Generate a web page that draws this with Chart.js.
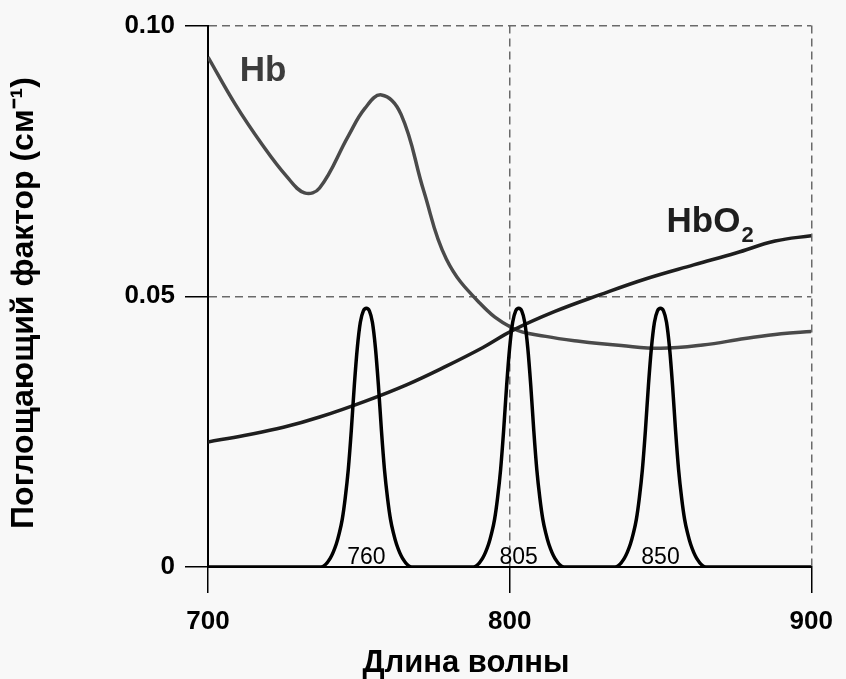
<!DOCTYPE html>
<html>
<head>
<meta charset="utf-8">
<script src="https://cdn.jsdelivr.net/npm/chart.js@4.4.1/dist/chart.umd.min.js"></script>
<style>
  body { margin: 0; background: #f8f8f8; }
  #wrap { width: 846px; height: 679px; }
</style>
</head>
<body>
<div id="wrap"><canvas id="absChart" width="846" height="679"></canvas></div>
<script>
// absorption of Hb, nm -> cm^-1
const hbWave = [700, 709, 718, 726, 732, 737, 746.5, 752, 757.5, 764, 771.5, 779, 790, 801, 812, 823, 837, 850, 864, 878, 890, 900];
const hbVals = [0.0942, 0.0855, 0.0780, 0.0722, 0.0691, 0.0700, 0.0796, 0.0847, 0.0872, 0.0836, 0.0695, 0.0569, 0.0488, 0.0441, 0.0426, 0.0417, 0.0409, 0.0404, 0.0410, 0.0422, 0.0431, 0.0435];

// absorption of HbO2
const hbo2Wave = [700, 712, 725, 737, 752, 766, 779, 791, 801, 815, 830, 845, 861, 875, 888, 900];
const hbo2Vals = [0.0231, 0.0243, 0.0258, 0.0277, 0.0306, 0.0337, 0.0371, 0.0405, 0.0437, 0.0472, 0.0503, 0.0532, 0.0558, 0.0580, 0.0602, 0.0612];

// source emission peaks (scaled)
const peakWave = [700,
  737.5, 740.5, 742.5, 743.5, 744.5, 745.5, 746.5, 747.5, 748.5, 749.5, 750.5, 751.5, 752.5, 753.5, 754.5, 755.5, 756.5, 757.5, 758.5, 759.5, 760.5, 761.5, 762.5, 764.5, 767.5,
  788, 791, 793, 794, 795, 796, 797, 798, 799, 800, 801, 802, 803, 804, 805, 806, 807, 808, 809, 810, 811, 812, 813, 815, 818,
  835, 838, 840, 841, 842, 843, 844, 845, 846, 847, 848, 849, 850, 851, 852, 853, 854, 855, 856, 857, 858, 859, 860, 862, 865,
  900];
const peakVals = [0,
  0, 0.0016, 0.0042, 0.0062, 0.0088, 0.0128, 0.0180, 0.0252, 0.0335, 0.0405, 0.0452, 0.0473, 0.0478, 0.0473, 0.0452, 0.0405, 0.0335, 0.0252, 0.0180, 0.0128, 0.0088, 0.0062, 0.0042, 0.0016, 0,
  0, 0.0016, 0.0042, 0.0062, 0.0088, 0.0128, 0.0180, 0.0252, 0.0335, 0.0405, 0.0452, 0.0473, 0.0478, 0.0473, 0.0452, 0.0405, 0.0335, 0.0252, 0.0180, 0.0128, 0.0088, 0.0062, 0.0042, 0.0016, 0,
  0, 0.0016, 0.0042, 0.0062, 0.0088, 0.0128, 0.0180, 0.0252, 0.0335, 0.0405, 0.0452, 0.0473, 0.0478, 0.0473, 0.0452, 0.0405, 0.0335, 0.0252, 0.0180, 0.0128, 0.0088, 0.0062, 0.0042, 0.0016, 0,
  0];
const peakCenters = [752.5, 803, 850];
const peakLabels = ['760', '805', '850'];

const yTickLabels = {0: '0', 0.05: '0.05', 0.1: '0.10'};

const FONT = '"Liberation Sans", Arial, sans-serif';

function pts(xs, ys) {
    return xs.map((x, i) => ({x: x, y: ys[i]}));
}

const textPlugin = {
    id: 'texts',
    afterDatasetsDraw(chart) {
        const ctx = chart.ctx;
        const x = chart.scales.x, y = chart.scales.y;
        ctx.save();
        ctx.fillStyle = '#000';
        ctx.textAlign = 'center';
        ctx.textBaseline = 'alphabetic';
        ctx.font = '23px ' + FONT;
        peakCenters.forEach((c, i) => {
            ctx.fillText(peakLabels[i], x.getPixelForValue(c), y.getPixelForValue(0) - 3);
        });

        ctx.textAlign = 'left';
        ctx.font = 'bold 35px ' + FONT;
        ctx.fillStyle = '#3c3c3c';
        ctx.fillText('Hb', x.getPixelForValue(710.5), y.getPixelForValue(0.0898));

        ctx.fillStyle = '#1e1e1e';
        const hx = x.getPixelForValue(852), hy = y.getPixelForValue(0.0618);
        ctx.fillText('HbO', hx, hy);
        const w = ctx.measureText('HbO').width;
        ctx.font = 'bold 22px ' + FONT;
        ctx.fillText('2', hx + w + 1, hy + 10);
        ctx.restore();
    },
    afterDraw(chart) {
        const ctx = chart.ctx;
        ctx.save();
        ctx.fillStyle = '#000';
        ctx.font = 'bold 31px ' + FONT;
        ctx.textAlign = 'center';
        ctx.textBaseline = 'alphabetic';
        ctx.fillText('Длина волны', 466, 672);

        ctx.font = 'bold 32px ' + FONT;
        ctx.translate(33, 303);
        ctx.rotate(-Math.PI / 2);
        ctx.fillText('Поглощающий фактор (см⁻¹)', 0, 0);
        ctx.restore();
    }
};

new Chart(document.getElementById('absChart'), {
    type: 'line',
    data: {
        datasets: [
            {
                label: 'peaks',
                data: pts(peakWave, peakVals),
                borderColor: '#000',
                borderWidth: 3.5,
                pointRadius: 0,
                cubicInterpolationMode: 'monotone',
                fill: false,
                order: 0
            },
            {
                label: 'HbO2',
                data: pts(hbo2Wave, hbo2Vals),
                borderColor: '#1e1e1e',
                borderWidth: 3.5,
                pointRadius: 0,
                tension: 0.4,
                fill: false,
                order: 1
            },
            {
                label: 'Hb',
                data: pts(hbWave, hbVals),
                borderColor: '#4a4a4a',
                borderWidth: 3.5,
                pointRadius: 0,
                tension: 0.4,
                fill: false,
                order: 2
            }
        ]
    },
    options: {
        responsive: false,
        animation: false,
        layout: { padding: { top: 22, right: 28, left: 0, bottom: 0 } },
        plugins: {
            legend: { display: false },
            tooltip: { enabled: false }
        },
        scales: {
            x: {
                type: 'linear',
                min: 700,
                max: 900,
                afterFit: (s) => { s.height = 112; },
                ticks: {
                    stepSize: 100,
                    autoSkip: false,
                    maxRotation: 0,
                    padding: 13,
                    color: '#000',
                    font: { family: FONT, size: 26, weight: 'bold' }
                },
                grid: {
                    color: (c) => c.tick && c.tick.value === 700 ? 'rgba(0,0,0,0)' : '#6a6a6a',
                    lineWidth: 1.5,
                    tickLength: 26,
                    tickColor: '#000',
                    tickWidth: 1.5
                },
                border: { color: '#000', width: 2, dash: [8, 5] }
            },
            y: {
                min: 0,
                max: 0.1,
                afterFit: (s) => { s.width = 208; },
                ticks: {
                    stepSize: 0.05,
                    padding: 10,
                    color: '#000',
                    font: { family: FONT, size: 26, weight: 'bold' },
                    callback: (v) => yTickLabels[Math.round(v * 100) / 100]
                },
                grid: {
                    color: (c) => c.tick && c.tick.value === 0 ? 'rgba(0,0,0,0)' : '#6a6a6a',
                    lineWidth: 1.5,
                    tickLength: 23,
                    tickColor: '#000',
                    tickWidth: 1.5
                },
                border: { color: '#000', width: 2, dash: [8, 5] }
            }
        }
    },
    plugins: [textPlugin]
});
</script>
</body>
</html>
